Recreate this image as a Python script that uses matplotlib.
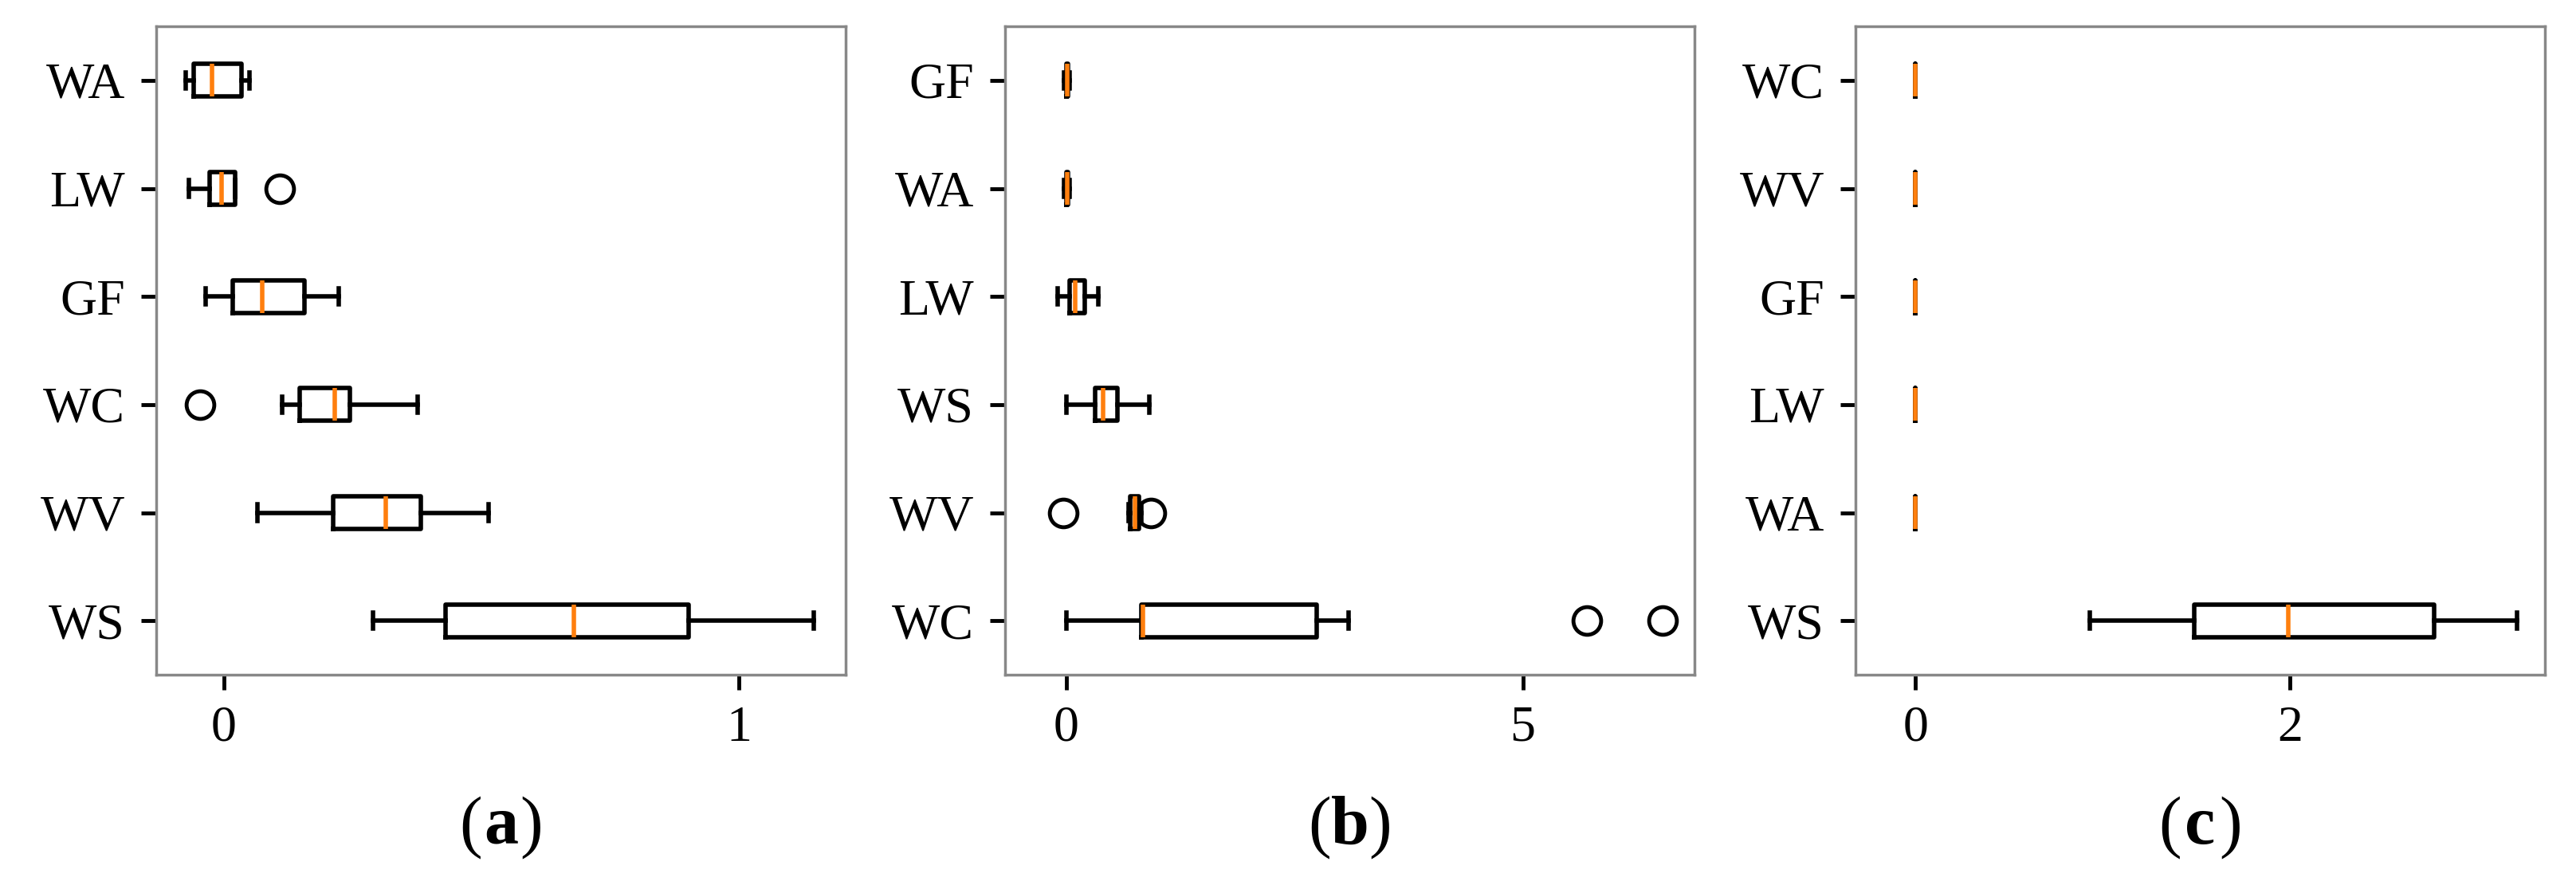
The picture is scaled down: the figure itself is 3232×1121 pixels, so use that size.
import matplotlib.pyplot as plt

plt.rcParams['font.family'] = ['Liberation Serif', 'DejaVu Serif']

# panel (a)
labels_a = ['WS', 'WV', 'WC', 'GF', 'LW', 'WA']
whislo_a = [0.29, 0.066, 0.113, -0.035, -0.067, -0.073]
q1_a = [0.43, 0.213, 0.147, 0.018, -0.027, -0.059]
med_a = [0.68, 0.315, 0.216, 0.075, -0.004, -0.022]
q3_a = [0.903, 0.383, 0.245, 0.156, 0.022, 0.034]
whishi_a = [1.145, 0.514, 0.376, 0.223, 0.022, 0.05]
fliers_a = [[], [], [-0.046], [], [0.108], []]

# panel (b)
labels_b = ['WC', 'WV', 'WS', 'LW', 'WA', 'GF']
whislo_b = [0.0, 0.68, 0.0, -0.09, -0.02, -0.02]
q1_b = [0.82, 0.70, 0.32, 0.035, 0.0, 0.0]
med_b = [0.84, 0.75, 0.40, 0.10, 0.01, 0.01]
q3_b = [2.74, 0.80, 0.56, 0.20, 0.02, 0.02]
whishi_b = [3.09, 0.82, 0.91, 0.35, 0.04, 0.04]
fliers_b = [[5.7, 6.53], [-0.03, 0.93], [], [], [], []]

# panel (c)
labels_c = ['WS', 'WA', 'LW', 'GF', 'WV', 'WC']
whislo_c = [0.93, 0, 0, 0, 0, 0]
q1_c = [1.49, 0, 0, 0, 0, 0]
med_c = [1.99, 0, 0, 0, 0, 0]
q3_c = [2.77, 0, 0, 0, 0, 0]
whishi_c = [3.21, 0, 0, 0, 0, 0]
fliers_c = [[], [], [], [], [], []]

panels = [
    (labels_a, whislo_a, q1_a, med_a, q3_a, whishi_a, fliers_a, (-0.131, 1.207), [0, 1], 'a'),
    (labels_b, whislo_b, q1_b, med_b, q3_b, whishi_b, fliers_b, (-0.67, 6.88), [0, 5], 'b'),
    (labels_c, whislo_c, q1_c, med_c, q3_c, whishi_c, fliers_c, (-0.32, 3.36), [0, 2], 'c'),
]
lefts = [196, 1261, 2328]
W, H = 3232, 1121

fig = plt.figure(figsize=(W / 100, H / 100), dpi=100)
for (labels, lo, q1, med, q3, hi, fl, xlim, ticks, tag), left in zip(panels, lefts):
    ax = fig.add_axes([left / W, 1 - 847 / H, 865 / W, (847 - 33) / H])
    stats = [dict(label=l, whislo=a, q1=b, med=c, q3=d, whishi=e, fliers=f)
             for l, a, b, c, d, e, f in zip(labels, lo, q1, med, q3, hi, fl)]
    lw = 4
    ax.bxp(stats, vert=False, widths=0.3,
           boxprops=dict(linewidth=lw, color='black'),
           whiskerprops=dict(linewidth=lw, color='black'),
           capprops=dict(linewidth=lw, color='black'),
           medianprops=dict(linewidth=lw, color='#ff7f0e'),
           flierprops=dict(marker='o', markersize=25, markerfacecolor='none',
                           markeredgecolor='black', markeredgewidth=3.5))
    ax.set_xlim(*xlim)
    ax.set_ylim(0.5, 6.5)
    ax.set_xticks(ticks)
    ax.tick_params(labelsize=46, width=3.5, length=14, pad=14)
    for s in ax.spines.values():
        s.set_color('#888888')
        s.set_linewidth(2.5)
    # panel tag "(a)" with bold letter
    ax.annotate(tag, (0.5, -0.235), xycoords='axes fraction', ha='center',
                va='center', fontsize=62, fontweight='bold')
    ax.annotate('(', (0.5, -0.235), xycoords='axes fraction', ha='right',
                va='center', fontsize=62, xytext=(-17, 0), textcoords='offset points')
    ax.annotate(')', (0.5, -0.235), xycoords='axes fraction', ha='left',
                va='center', fontsize=62, xytext=(17, 0), textcoords='offset points')

fig.savefig('out.png', dpi=100)
